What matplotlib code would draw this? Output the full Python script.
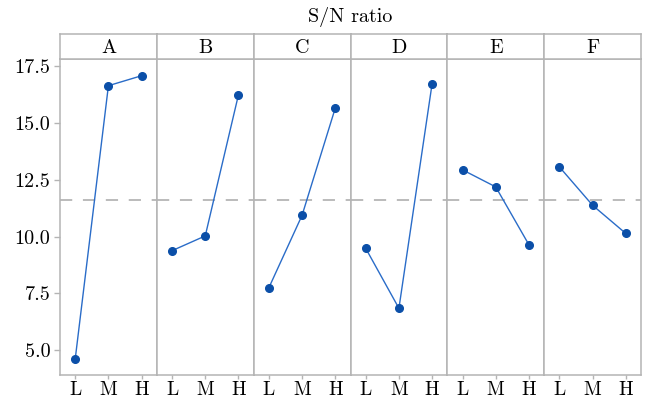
import numpy as np
import matplotlib.pyplot as plt

plt.rcParams['font.family'] = ['cmr10', 'DejaVu Serif']
plt.rcParams['axes.formatter.use_mathtext'] = True

fatores = ['A', 'B', 'C', 'D', 'E', 'F']
niveis = ['L', 'M', 'H']
sn_A = [4.62, 16.65, 17.09]
sn_B = [9.38, 10.03, 16.24]
sn_C = [7.75, 10.94, 15.66]
sn_D = [9.48, 6.84, 16.73]
sn_E = [12.94, 12.19, 9.64]
sn_F = [13.07, 11.38, 10.14]
media = 11.62
yticks = [5.0, 7.5, 10.0, 12.5, 15.0, 17.5]

valores = [sn_A, sn_B, sn_C, sn_D, sn_E, sn_F]

cinza = '#b4b4b4'
linha = '#2a6cc8'
ponto = '#0b4fa8'
fs = 14.5

fig = plt.figure(figsize=(6.47, 4.01), dpi=100)
esq, dir_ = 60 / 647, 641 / 647
base, topo = 1 - 375 / 401, 1 - 58.7 / 401
faixa = 24.7 / 401
larg = (dir_ - esq) / 6

x = np.arange(3)
for i, (fat, vals) in enumerate(zip(fatores, valores)):
    ax = fig.add_axes([esq + i * larg, base, larg, topo - base])
    ax.axhline(media, color='#a8a8a8', lw=1.1, dashes=(8, 7), zorder=1)
    ax.plot(x, vals, color=linha, lw=1.0, zorder=2)
    ax.plot(x, vals, 'o', color=ponto, ms=5.5, zorder=3)
    ax.set_xlim(-0.46, 2.46)
    ax.set_ylim(3.9, 17.84)
    ax.set_xticks(x)
    ax.set_xticklabels(niveis, fontsize=14)
    ax.set_yticks(yticks)
    if i == 0:
        ax.set_yticklabels(['%.1f' % v for v in yticks], fontsize=fs)
    else:
        ax.tick_params(axis='y', left=False, labelleft=False)
    ax.tick_params(colors=cinza, labelcolor='black', length=4, width=1, pad=3)
    ax.tick_params(axis='x', length=3, pad=1.5)
    for s in ax.spines.values():
        s.set_color(cinza)
        s.set_linewidth(1.1)

    tira = fig.add_axes([esq + i * larg, topo, larg, faixa])
    tira.set_xticks([])
    tira.set_yticks([])
    for s in tira.spines.values():
        s.set_color(cinza)
        s.set_linewidth(1.1)
    tira.text(0.5, 0.45, fat, ha='center', va='center', fontsize=fs,
              transform=tira.transAxes)

fig.text(0.5 * (esq + dir_), 1 - 17 / 401, 'S/N ratio', ha='center',
         va='center', fontsize=fs)

fig.savefig('out.png', dpi=100)
